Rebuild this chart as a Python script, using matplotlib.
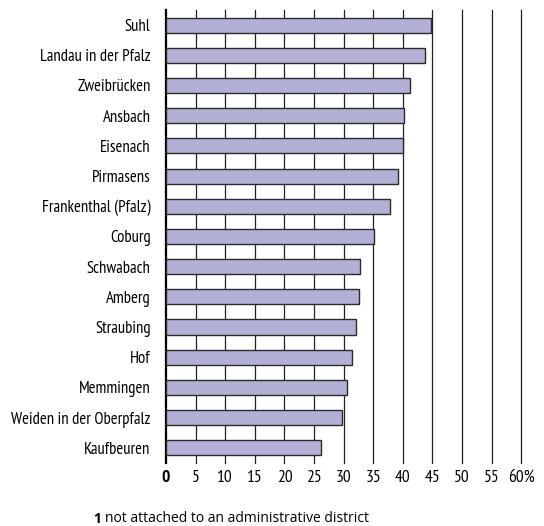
import matplotlib.pyplot as plt

cities = ['Suhl', 'Landau in der Pfalz', 'Zweibrücken', 'Ansbach', 'Eisenach',
          'Pirmasens', 'Frankenthal (Pfalz)', 'Coburg', 'Schwabach', 'Amberg',
          'Straubing', 'Hof', 'Memmingen', 'Weiden in der Oberpfalz', 'Kaufbeuren']
values = [44.7, 43.8, 41.3, 40.2, 40.0, 39.2, 37.9, 35.2, 32.8, 32.6,
          32.1, 31.4, 30.6, 29.7, 26.2]
ticks = list(range(0, 61, 5))
tick_labels = [str(t) for t in ticks[:-1]] + ['60%']

plt.rcParams['font.family'] = ['PT Sans Narrow', 'DejaVu Sans']

fig = plt.figure(figsize=(5.44, 5.26), dpi=100)
ax = fig.add_axes([0.305, 0.12, 0.653, 0.861])

y = list(range(len(cities)))
ax.barh(y, values, height=0.5, color='#b3b0d6', edgecolor='#2b2b2b',
        linewidth=1.0, zorder=3)

ax.set_ylim(len(cities) - 0.5, -0.5)
ax.set_xlim(0, 60)
ax.set_xticks(ticks)
ax.set_xticklabels(tick_labels, fontsize=12.5)
ax.get_xticklabels()[0].set_fontweight('bold')
ax.set_yticks(y)
ax.set_yticklabels(cities, fontsize=12)

for t in ticks[1:]:
    ax.axvline(t, color='#222222', linewidth=0.9, zorder=1, clip_on=False)

for s in ['top', 'right', 'bottom']:
    ax.spines[s].set_visible(False)
ax.spines['left'].set_linewidth(1.6)
ax.spines['left'].set_color('black')
ax.tick_params(axis='y', length=0, pad=11)
ax.tick_params(axis='x', length=0, pad=5)

foot = ['Open Sans', 'DejaVu Sans']
fig.text(0.171, 0.0, '1', fontsize=10, fontweight='bold', family=foot, va='bottom')
fig.text(0.193, 0.0, 'not attached to an administrative district', fontsize=10,
         family=foot, va='bottom')

fig.savefig('out.png', dpi=100)
